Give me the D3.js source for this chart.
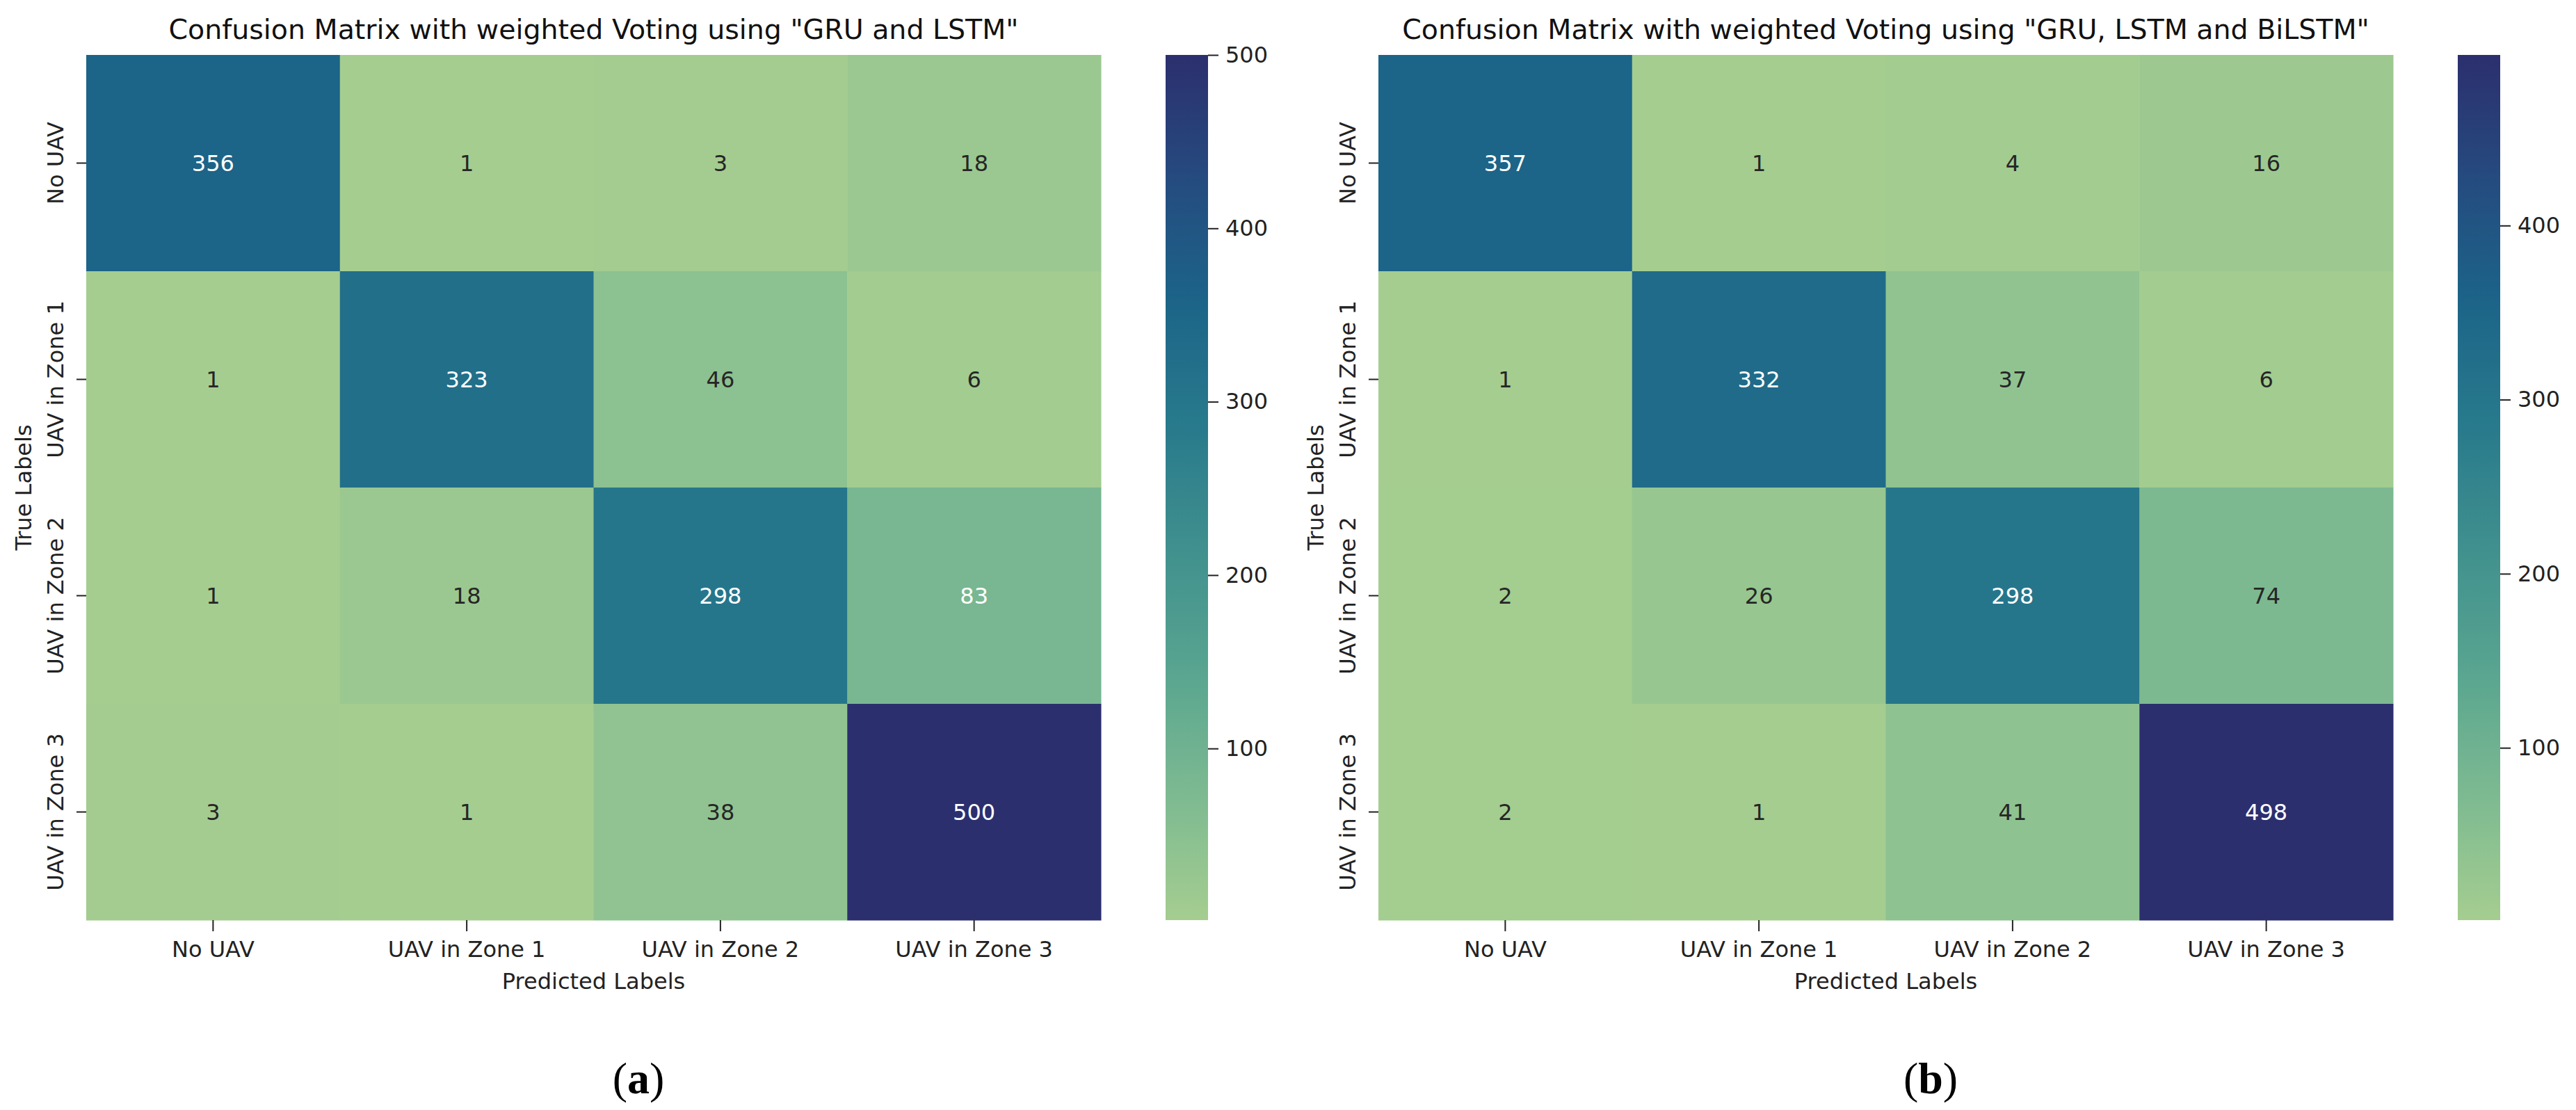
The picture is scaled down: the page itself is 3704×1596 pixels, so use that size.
<!DOCTYPE html>
<html>
<head>
<meta charset="utf-8">
<script src="https://cdn.jsdelivr.net/npm/d3@7/dist/d3.min.js"></script>
<style>
  html, body { margin: 0; padding: 0; background: #fff; }
  svg { display: block; }
</style>
</head>
<body>
<script>
// ---------------- data ----------------
const classes = ["No UAV", "UAV in Zone 1", "UAV in Zone 2", "UAV in Zone 3"];
const matrixA = [
  [356, 1, 3, 18],
  [1, 323, 46, 6],
  [1, 18, 298, 83],
  [3, 1, 38, 500]
];
const matrixB = [
  [357, 1, 4, 16],
  [1, 332, 37, 6],
  [2, 26, 298, 74],
  [2, 1, 41, 498]
];
const titles = [
  'Confusion Matrix with weighted Voting using "GRU and LSTM"',
  'Confusion Matrix with weighted Voting using "GRU, LSTM and BiLSTM"'
];
const captions = ["a", "b"];
const colorbarTicksA = [100, 200, 300, 400, 500];
const colorbarTicksB = [100, 200, 300, 400];
const xAxisTitle = "Predicted Labels";
const yAxisTitle = "True Labels";

// ---------------- style ----------------
const W = 3704, H = 1596;
const FONT = "'DejaVu Sans', sans-serif";
// approximation of seaborn "crest"
const crestStops = [0, 1/7, 2/7, 3/7, 4/7, 5/7, 6/7, 1];
const crestColors = ["#a5cd90", "#7dba91", "#59a590", "#40908e", "#287a8c", "#1c6488", "#254b7f", "#2c2f6e"];
const crest = d3.scaleLinear().domain(crestStops).range(crestColors).interpolate(d3.interpolateRgb).clamp(true);

const panels = [
  { m: matrixA, title: titles[0], cap: captions[0], ticks: colorbarTicksA, dx: 0 },
  { m: matrixB, title: titles[1], cap: captions[1], ticks: colorbarTicksB, dx: 1858 }
];

const L = { x0: 124, x1: 1583, y0: 79, y1: 1323, cbX0: 1676, cbX1: 1737, capX: 918, capY: 1572 };

const svg = d3.select("body").append("svg").attr("width", W).attr("height", H)
  .attr("viewBox", `0 0 ${W} ${H}`);
svg.append("rect").attr("width", W).attr("height", H).attr("fill", "#fff");
const defs = svg.append("defs");

function relLum(c) {
  const rgb = d3.rgb(c);
  const f = v => { v /= 255; return v <= 0.03928 ? v / 12.92 : Math.pow((v + 0.055) / 1.055, 2.4); };
  return 0.2126 * f(rgb.r) + 0.7152 * f(rgb.g) + 0.0722 * f(rgb.b);
}

panels.forEach((p, pi) => {
  const g = svg.append("g").attr("transform", `translate(${p.dx},0)`);
  const flat = p.m.flat();
  const vmin = d3.min(flat), vmax = d3.max(flat);
  const color = v => crest((v - vmin) / (vmax - vmin));

  const x = d3.scaleBand().domain(classes).range([L.x0, L.x1]).padding(0);
  const y = d3.scaleBand().domain(classes).range([L.y0, L.y1]).padding(0);

  const cells = [];
  p.m.forEach((row, i) => row.forEach((v, j) => cells.push({ r: classes[i], c: classes[j], v })));

  g.selectAll("rect.cell").data(cells).enter().append("rect")
    .attr("class", "cell")
    .attr("x", d => x(d.c)).attr("y", d => y(d.r))
    .attr("width", x.bandwidth() + 0.5).attr("height", y.bandwidth() + 0.5)
    .attr("fill", d => color(d.v));

  g.selectAll("text.ann").data(cells).enter().append("text")
    .attr("class", "ann")
    .attr("x", d => x(d.c) + x.bandwidth() / 2)
    .attr("y", d => y(d.r) + y.bandwidth() / 2)
    .attr("dy", "0.36em")
    .attr("text-anchor", "middle")
    .attr("font-family", FONT).attr("font-size", 32)
    .attr("fill", d => relLum(color(d.v)) > 0.408 ? "#262626" : "#ffffff")
    .text(d => d.v);

  // x axis
  const xa = g.append("g").attr("transform", `translate(0,${L.y1})`)
    .call(d3.axisBottom(x).tickSize(16).tickPadding(10));
  xa.select(".domain").remove();
  xa.selectAll(".tick line").attr("stroke", "#222").attr("stroke-width", 2);
  xa.selectAll(".tick text").attr("font-family", FONT).attr("font-size", 32).attr("fill", "#222")
    .attr("dy", null).attr("y", 53);

  // y axis
  const ya = g.append("g").attr("transform", `translate(${L.x0},0)`)
    .call(d3.axisLeft(y).tickSize(14).tickPadding(10));
  ya.select(".domain").remove();
  ya.selectAll(".tick line").attr("stroke", "#222").attr("stroke-width", 2);
  ya.selectAll(".tick text").attr("font-family", FONT).attr("font-size", 32).attr("fill", "#222")
    .attr("x", null).attr("dy", null)
    .attr("text-anchor", "middle")
    .attr("transform", "translate(-33,0) rotate(-90)");

  // axis titles
  g.append("text").attr("x", (L.x0 + L.x1) / 2).attr("y", 1422)
    .attr("text-anchor", "middle").attr("font-family", FONT).attr("font-size", 32).attr("fill", "#222")
    .text(xAxisTitle);
  g.append("text").attr("transform", `translate(45,${(L.y0 + L.y1) / 2}) rotate(-90)`)
    .attr("text-anchor", "middle").attr("font-family", FONT).attr("font-size", 32).attr("fill", "#222")
    .text(yAxisTitle);

  // title
  g.append("text").attr("x", (L.x0 + L.x1) / 2).attr("y", 56)
    .attr("text-anchor", "middle").attr("font-family", FONT).attr("font-size", 39.5).attr("fill", "#111")
    .text(p.title);

  // colorbar
  const cb = d3.scaleLinear().domain([vmin, vmax]).range([L.y1, L.y0]);
  const gid = "cbgrad" + pi;
  const grad = defs.append("linearGradient").attr("id", gid)
    .attr("x1", 0).attr("y1", 1).attr("x2", 0).attr("y2", 0);
  d3.range(0, 1.0001, 1 / 64).forEach(t => {
    grad.append("stop").attr("offset", t).attr("stop-color", crest(t));
  });
  g.append("rect").attr("x", L.cbX0).attr("y", L.y0)
    .attr("width", L.cbX1 - L.cbX0).attr("height", L.y1 - L.y0)
    .attr("fill", `url(#${gid})`);
  const ca = g.append("g").attr("transform", `translate(${L.cbX1},0)`)
    .call(d3.axisRight(cb).tickValues(p.ticks).tickSize(15).tickPadding(10));
  ca.select(".domain").remove();
  ca.selectAll(".tick line").attr("stroke", "#222").attr("stroke-width", 2);
  ca.selectAll(".tick text").attr("font-family", FONT).attr("font-size", 32).attr("fill", "#222");

  // caption
  const cap = g.append("text").attr("x", L.capX).attr("y", L.capY)
    .attr("text-anchor", "middle").attr("font-family", "'Liberation Serif', 'DejaVu Serif', serif")
    .attr("font-size", 64).attr("fill", "#000");
  cap.append("tspan").text("(");
  cap.append("tspan").attr("font-weight", "bold").text(p.cap);
  cap.append("tspan").text(")");
});
</script>
</body>
</html>
